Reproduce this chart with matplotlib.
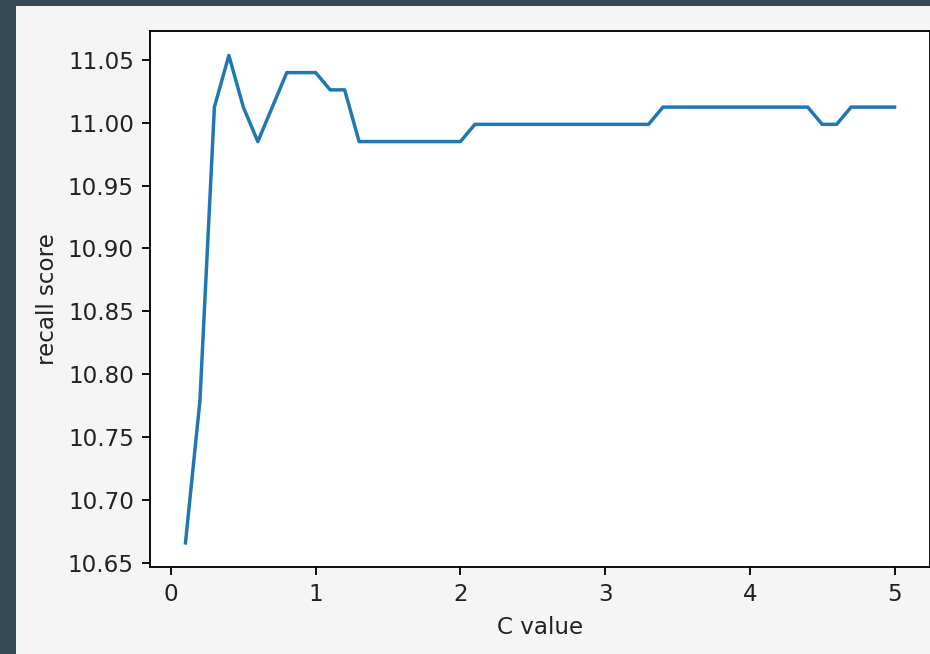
import numpy as np
import matplotlib
matplotlib.use("Agg")
import matplotlib.pyplot as plt

# C values tried and the recall score
c_values = [0.1, 0.2, 0.3, 0.4, 0.5, 0.6, 0.7, 0.8, 0.9, 1.0,
            1.1, 1.2, 1.3, 1.4, 1.5, 1.6, 1.7, 1.8, 1.9, 2.0,
            2.1, 2.2, 2.3, 2.4, 2.5, 2.6, 2.7, 2.8, 2.9, 3.0,
            3.1, 3.2, 3.3, 3.4, 3.5, 3.6, 3.7, 3.8, 3.9, 4.0,
            4.1, 4.2, 4.3, 4.4, 4.5, 4.6, 4.7, 4.8, 4.9, 5.0]
recall = [10.666, 10.779, 11.0123, 11.0534, 11.0123, 10.9849, 11.0123, 11.0397, 11.0397, 11.0397,
          11.0260, 11.0260, 10.9849, 10.9849, 10.9849, 10.9849, 10.9849, 10.9849, 10.9849, 10.9849,
          10.9986, 10.9986, 10.9986, 10.9986, 10.9986, 10.9986, 10.9986, 10.9986, 10.9986, 10.9986,
          10.9986, 10.9986, 10.9986, 11.0123, 11.0123, 11.0123, 11.0123, 11.0123, 11.0123, 11.0123,
          11.0123, 11.0123, 11.0123, 11.0123, 10.9986, 10.9986, 11.0123, 11.0123, 11.0123, 11.0123]

W, H, DPI = 931, 654, 166
plt.rcParams["text.color"] = "#222222"
plt.rcParams["xtick.labelcolor"] = "#222222"
plt.rcParams["ytick.labelcolor"] = "#222222"
plt.rcParams["axes.labelcolor"] = "#222222"

fig = plt.figure(figsize=(W / DPI, H / DPI), dpi=DPI, facecolor="#364a55")

# light notebook-style panel behind the plot
bg = fig.add_axes([16 / W, 0, 1 - 16 / W, 1 - 6 / H], zorder=0)
bg.set_facecolor("#f5f5f5")
bg.set_xticks([])
bg.set_yticks([])
for s in bg.spines.values():
    s.set_visible(False)

ax = fig.add_axes([150 / W, 1 - 567.3 / H, (930 - 150) / W, (567.3 - 31) / H], zorder=1)
ax.plot(c_values, recall)
ax.set_xlabel("C value")
ax.set_ylabel("recall score")

fig.savefig("out.png", dpi=DPI, facecolor=fig.get_facecolor())
